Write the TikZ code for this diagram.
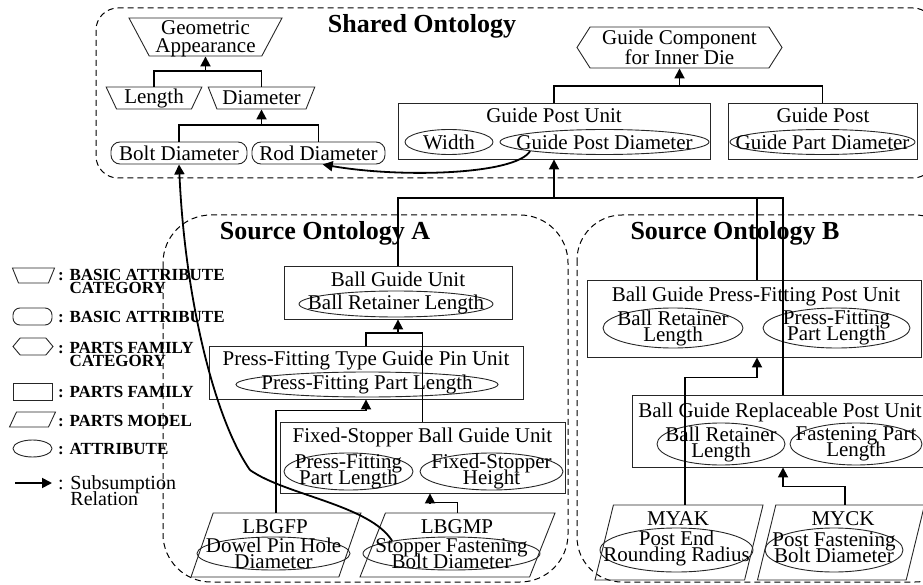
\documentclass[tikz,border=0pt]{standalone}
\usepackage{fontspec}
\setmainfont{Liberation Serif}
\usetikzlibrary{arrows.meta, shapes.geometric, shapes.symbols}
\tikzset{
  txt/.style={font={\fontsize{21}{16}\selectfont\lineskiplimit=-50pt}, align=center, inner sep=0pt},
  ttl/.style={font={\fontsize{26}{30}\selectfont\bfseries}, inner sep=0pt},
  lgd/.style={font={\fontsize{17}{13}\selectfont\bfseries\lineskiplimit=-50pt}, align=left, anchor=west, inner sep=0pt},
  onto/.style={draw=black, dash pattern=on 6pt off 4pt, line width=1pt},
  family/.style={draw=black!85, line width=0.9pt, rectangle, inner sep=0pt},
  attr/.style={draw=black!85, line width=0.9pt, ellipse, inner sep=0pt},
  basicattr/.style={txt, draw=black!85, line width=0.9pt, rectangle, rounded corners=9pt, minimum height=22pt, inner sep=0pt},
  basiccat/.style={txt, draw=black!85, line width=0.9pt, trapezium, trapezium stretches=true, inner sep=1pt},
  famcat/.style={txt, draw=black!85, line width=0.9pt, signal, signal to=west and east, signal pointer angle=115, inner sep=1pt},
  model/.style={draw=black!85, line width=0.9pt, trapezium, trapezium left angle=80, trapezium right angle=100, trapezium stretches=true, inner sep=1pt},
  link/.style={draw=black, line width=1.8pt},
  subs/.style={link, -{Triangle[length=10pt, width=10pt]}}
}
\begin{document}
\begin{tikzpicture}[x=1pt, y=-1pt]
\useasboundingbox (0,0) rectangle (923,585);
\draw[onto, rounded corners=22pt] (96,8) rectangle (935,178);
\draw[onto, rounded corners=48pt] (163,215) rectangle (568,582);
\draw[onto, rounded corners=45pt] (577,215) rectangle (960,582);
\node[ttl, anchor=base] (t-shared) at (422,33) {Shared Ontology};
\node[ttl, anchor=base] (t-srcA) at (325,240) {Source Ontology A};
\node[ttl, anchor=base] (t-srcB) at (735,240) {Source Ontology B};

\node[basiccat, trapezium left angle=118, trapezium right angle=118, inner xsep=56.3pt, inner ysep=19pt] (geo) at (205.5,37) {};
\node[txt, font={\fontsize{21}{18}\selectfont}] (geo-t) at (205.5,39) {Geometric\\Appearance};
\node[basiccat, minimum width=96pt, minimum height=22pt, trapezium left angle=112, trapezium right angle=112] (len) at (154,98) {Length};
\node[basiccat, minimum width=107pt, minimum height=22pt, trapezium left angle=116, trapezium right angle=116] (dia) at (261.5,98) {Diameter};
\node[basicattr, minimum width=136pt] (bolt) at (179,153) {Bolt Diameter};
\node[basicattr, minimum width=133pt] (rod) at (318.5,153) {Rod Diameter};
\node[famcat, minimum width=205pt, minimum height=41pt, font={\fontsize{21}{18}\selectfont}] (gci) at (679.5,47.5) {Guide Component\\for Inner Die};
\node[family, minimum width=312pt, minimum height=56pt] (gpu) at (554,131) {};
\node[txt, anchor=base] (gpu-t) at (554,123) {Guide Post Unit};
\node[attr, minimum width=88pt, minimum height=25pt] (gpu-w) at (449,142) {};
\node[txt] (gpu-wt) at (gpu-w) {Width};
\node[attr, minimum width=209pt, minimum height=25pt] (gpu-d) at (604.5,142) {};
\node[txt] (gpu-dt) at (gpu-d) {Guide Post Diameter};
\node[family, minimum width=189pt, minimum height=56pt] (gp) at (822.5,131) {};
\node[txt, anchor=base] (gp-t) at (823,123) {Guide Post};
\node[attr, minimum width=185pt, minimum height=25pt] (gp-d) at (822.5,142) {};
\node[txt] (gp-dt) at (gp-d) {Guide Part Diameter};

\node[family, minimum width=228pt, minimum height=53pt] (bgu) at (398,292.5) {};
\node[txt, anchor=base] (bgu-t) at (398,286) {Ball Guide Unit};
\node[attr, minimum width=194pt, minimum height=26pt] (bgu-a) at (396,304) {};
\node[txt] (bgu-at) at (bgu-a) {Ball Retainer Length};
\node[family, minimum width=314pt, minimum height=53pt] (pft) at (366,372.5) {};
\node[txt, anchor=base] (pft-t) at (366,365) {Press-Fitting Type Guide Pin Unit};
\node[attr, minimum width=262pt, minimum height=25pt] (pft-a) at (367,384.5) {};
\node[txt] (pft-at) at (pft-a) {Press-Fitting Part Length};
\node[family, minimum width=285pt, minimum height=71pt] (fsb) at (422.5,457.5) {};
\node[txt, anchor=base] (fsb-t) at (422.5,442) {Fixed-Stopper Ball Guide Unit};
\node[attr, minimum width=129pt, minimum height=37pt] (fsb-a) at (348.5,471.5) {};
\node[txt] (fsb-at) at (fsb-a) {Press-Fitting\\Part Length};
\node[attr, minimum width=143pt, minimum height=37pt] (fsb-b) at (491.5,471.5) {};
\node[txt] (fsb-bt) at (fsb-b) {Fixed-Stopper\\Height};
\node[model, minimum width=170pt, minimum height=64pt] (lbgfp) at (276,545) {};
\node[txt, anchor=base] (lbgfp-t) at (275,533) {LBGFP};
\node[attr, minimum width=153pt, minimum height=33pt] (lbgfp-a) at (273.5,553.5) {};
\node[txt] (lbgfp-at) at (lbgfp-a) {Dowel Pin Hole\\Diameter};
\node[model, minimum width=195pt, minimum height=64pt] (lbgmp) at (457.5,545) {};
\node[txt, anchor=base] (lbgmp-t) at (457,533) {LBGMP};
\node[attr, minimum width=177pt, minimum height=33pt] (lbgmp-a) at (451.5,553.5) {};
\node[txt] (lbgmp-at) at (lbgmp-a) {Stopper Fastening\\Bolt Diameter};

\node[family, minimum width=334pt, minimum height=77pt] (bpf) at (754,318.5) {};
\node[txt, anchor=base] (bpf-t) at (756,301) {Ball Guide Press-Fitting Post Unit};
\node[attr, minimum width=140pt, minimum height=40pt] (bpf-a) at (673,328) {};
\node[txt] (bpf-at) at (bpf-a) {Ball Retainer\\Length};
\node[attr, minimum width=147pt, minimum height=40pt] (bpf-b) at (836.5,328) {};
\node[txt] (bpf-bt) at (bpf-b) {Press-Fitting\\Part Length};
\node[family, minimum width=300pt, minimum height=72pt] (brp) at (782,431) {};
\node[txt, anchor=base] (brp-t) at (780,417) {Ball Guide Replaceable Post Unit};
\node[attr, minimum width=128pt, minimum height=42pt] (brp-a) at (721,444) {};
\node[txt] (brp-at) at (brp-a) {Ball Retainer\\Length};
\node[attr, minimum width=132pt, minimum height=42pt] (brp-b) at (856,444) {};
\node[txt] (brp-bt) at (brp-b) {Fastening Part\\Length};
\node[model, minimum width=168pt, minimum height=75pt, trapezium left angle=82, trapezium right angle=98] (myak) at (679,542.5) {};
\node[txt, anchor=base] (myak-t) at (678,525) {MYAK};
\node[attr, minimum width=153pt, minimum height=44pt] (myak-a) at (676.5,550) {};
\node[txt] (myak-at) at (676.5,548) {Post End\\Rounding Radius};
\node[model, minimum width=167pt, minimum height=75pt, trapezium left angle=82, trapezium right angle=98] (myck) at (841,542.5) {};
\node[txt, anchor=base] (myck-t) at (843,525) {MYCK};
\node[attr, minimum width=138pt, minimum height=44pt] (myck-a) at (834,550) {};
\node[txt] (myck-at) at (834,548) {Post Fastening\\Bolt Diameter};

\coordinate (geo-bar) at (geo.south |- 0,71);
\draw[link] (len.north) |- (geo-bar) -| (dia.north);
\draw[subs] (geo-bar) -- (geo.south);
\coordinate (dia-bar) at (dia.south |- 0,125);
\draw[link] (bolt.north) |- (dia-bar) -| (rod.north);
\draw[subs] (dia-bar) -- (dia.south);
\coordinate (gci-bar) at (gci.south |- 0,86);
\draw[link] (gpu.north) |- (gci-bar) -| (gp.north);
\draw[subs] (gci-bar) -- (gci.south);
\draw[subs] (gpu-d.-173) .. controls (515,175) and (400,178) .. (rod.-70);
\coordinate (gpu-bar) at (gpu.south |- 0,198);
\draw[link] (bgu.north) |- (gpu-bar) -| ([xshift=1pt]brp.north);
\draw[link] ([xshift=3pt]bpf.north) -- ++(0,-82);
\draw[subs] (gpu-bar) -- (gpu.south);
\coordinate (bgu-bar) at (bgu.south |- 0,333);
\draw[link] (pft.north) |- (bgu-bar) -| (fsb.north);
\draw[subs] (bgu-bar) -- (bgu.south);
\draw[subs] (lbgfp.north) -- ++(0,-102) -| (pft.south);
\draw[subs] (lbgmp.north) -- ++(0,-10) -| (fsb.south -| 430,0);
\draw[subs] (lbgmp-a.168) .. controls (370,505) and (285,495) .. (250,470) .. controls (215,420) and (185,300) .. (bolt.south);
\draw[subs] ([xshift=6pt]myak.north) -- ++(0,-127) -| ([xshift=3pt]bpf.south);
\draw[subs] ([xshift=4pt]myck.north) -- ++(0,-18) -| ([xshift=1pt]brp.south);

\node[basiccat, trapezium left angle=112, trapezium right angle=112, inner xsep=15pt, inner ysep=7.5pt] (lg-bc) at (33.5,275.5) {};
\node[lgd] (lg-bc-t) at (58,281.5) {: BASIC ATTRIBUTE\\\phantom{: }CATEGORY};
\node[basicattr, minimum width=39pt, minimum height=17pt, rounded corners=7pt] (lg-ba) at (32.5,316.5) {};
\node[lgd] (lg-ba-t) at (58,317) {: BASIC ATTRIBUTE};
\node[famcat, minimum width=40pt, minimum height=17pt, signal pointer angle=100] (lg-fc) at (33,346.5) {};
\node[lgd] (lg-fc-t) at (58,354.5) {: PARTS FAMILY\\\phantom{: }CATEGORY};
\node[family, minimum width=39pt, minimum height=17pt] (lg-fam) at (32.5,391.5) {};
\node[lgd] (lg-fam-t) at (58,392) {: PARTS FAMILY};
\node[model, trapezium left angle=65, trapezium right angle=115, inner xsep=16pt, inner ysep=7.5pt] (lg-mod) at (32.5,419.5) {};
\node[lgd] (lg-mod-t) at (58,420.5) {: PARTS MODEL};
\node[attr, minimum width=39pt, minimum height=17pt] (lg-att) at (32.5,448.5) {};
\node[lgd] (lg-att-t) at (58,449) {: ATTRIBUTE};
\coordinate (lg-from) at (15,483);
\coordinate (lg-to) at (52,483);
\draw[subs] (lg-from) -- (lg-to);
\node[lgd, font={\fontsize{20}{16}\selectfont\lineskiplimit=-50pt}] (lg-sub-t) at (58,491) {: Subsumption\\\phantom{: }Relation};
\end{tikzpicture}
\end{document}
